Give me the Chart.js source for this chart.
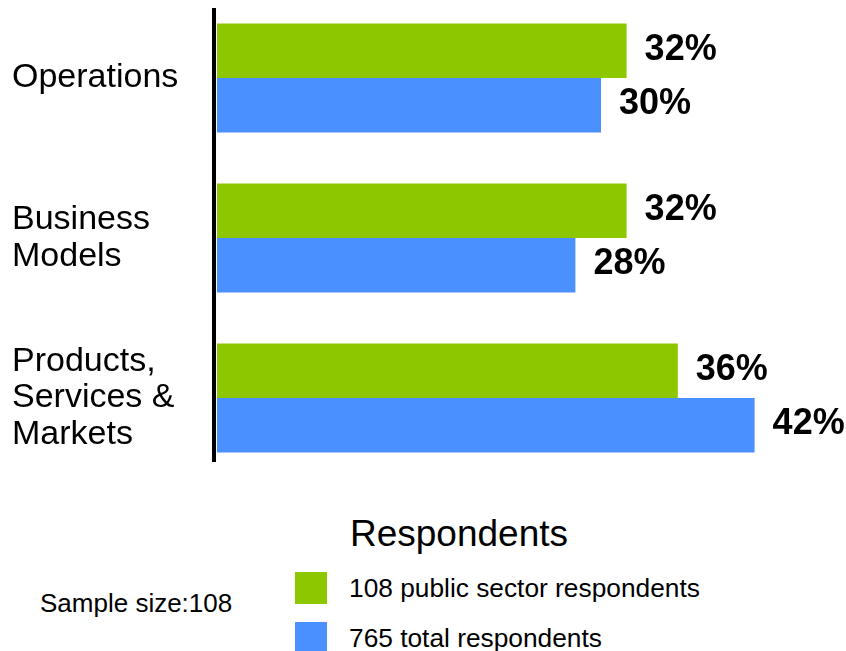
<!DOCTYPE html>
<html>
<head>
<meta charset="utf-8">
<script src="https://cdn.jsdelivr.net/npm/chart.js@4/dist/chart.umd.min.js"></script>
<style>
  html, body { margin: 0; padding: 0; background: #fff; }
  body { width: 846px; height: 651px; position: relative; overflow: hidden;
         font-family: "Liberation Sans", Arial, sans-serif; color: #000; }
  #chart { position: absolute; left: 0; top: -2px; }
  #legendTitle { position: absolute; left: 0; width: 918px; top: 512px; text-align: center;
                 font-size: 37px; line-height: 44px; }
  #sampleNote { position: absolute; left: 40px; top: 588px; font-size: 26px; line-height: 30px; }
  #legend { position: absolute; left: 295px; top: 570px; }
  .item { position: relative; height: 50px; }
  .swatch { position: absolute; left: 0; top: 2px; width: 32px; height: 32px; }
  .label { position: absolute; left: 54px; top: 3px; font-size: 26.3px; line-height: 30px; white-space: nowrap; }
</style>
</head>
<body>
<canvas id="chart" width="846" height="480"></canvas>
<div id="legendTitle">Respondents</div>
<div id="sampleNote">Sample size:108</div>
<div id="legend"></div>
<script>
// Categories (multi-line tick labels) and the two series, in percent
const categories = [['Operations'], ['Business', 'Models'], ['Products,', 'Services &', 'Markets']];
const publicSector = [32, 32, 36];
const totalRespondents = [30, 28, 42];
const seriesNames = ['108 public sector respondents', '765 total respondents'];
const seriesColors = ['#8DC700', '#4A90FF'];
const xMax = 49.14;

const FONT = '"Liberation Sans", Arial, sans-serif';

// Vertical axis line at the left edge of the plot
const axisLine = {
  id: 'axisLine',
  beforeDatasetsDraw(chart) {
    const { ctx, chartArea } = chart;
    ctx.save();
    ctx.strokeStyle = '#000';
    ctx.lineWidth = 4;
    ctx.beginPath();
    ctx.moveTo(chartArea.left - 3, chartArea.top + 10);
    ctx.lineTo(chartArea.left - 3, chartArea.bottom - 16);
    ctx.stroke();
    ctx.restore();
  }
};

// Percentage labels to the right of each bar
const valueLabels = {
  id: 'valueLabels',
  afterDatasetsDraw(chart) {
    const { ctx } = chart;
    ctx.save();
    ctx.font = 'bold 36px ' + FONT;
    ctx.fillStyle = '#000';
    ctx.textAlign = 'left';
    ctx.textBaseline = 'middle';
    chart.data.datasets.forEach((ds, di) => {
      chart.getDatasetMeta(di).data.forEach((bar, i) => {
        ctx.fillText(ds.data[i] + '%', bar.x + 18, bar.y - 1);
      });
    });
    ctx.restore();
  }
};

const chart = new Chart(document.getElementById('chart'), {
  type: 'bar',
  data: {
    labels: categories,
    datasets: [
      { label: seriesNames[0], data: publicSector, backgroundColor: seriesColors[0] },
      { label: seriesNames[1], data: totalRespondents, backgroundColor: seriesColors[1] }
    ]
  },
  options: {
    indexAxis: 'y',
    responsive: false,
    animation: false,
    devicePixelRatio: 1,
    layout: { padding: { left: 12, right: 0, top: 0, bottom: 0 } },
    datasets: { bar: { barPercentage: 1, categoryPercentage: 0.68, borderWidth: 0 } },
    plugins: { legend: { display: false }, tooltip: { enabled: false } },
    scales: {
      x: { display: false, min: 0, max: xMax },
      y: {
        grid: { display: false },
        border: { display: false },
        afterFit(scale) {
          scale.width = 205;
          scale.paddingTop = 0;
          scale.paddingBottom = 0;
        },
        ticks: {
          crossAlign: 'far',
          padding: 0,
          color: '#000',
          font: { family: FONT, size: 34, lineHeight: 1.07 }
        }
      }
    }
  },
  plugins: [axisLine, valueLabels]
});

// Legend built from the chart's datasets
const legend = document.getElementById('legend');
chart.data.datasets.forEach(ds => {
  const item = document.createElement('div');
  item.className = 'item';
  const sw = document.createElement('div');
  sw.className = 'swatch';
  sw.style.background = ds.backgroundColor;
  const lb = document.createElement('div');
  lb.className = 'label';
  lb.textContent = ds.label;
  item.appendChild(sw);
  item.appendChild(lb);
  legend.appendChild(item);
});
</script>
</body>
</html>
